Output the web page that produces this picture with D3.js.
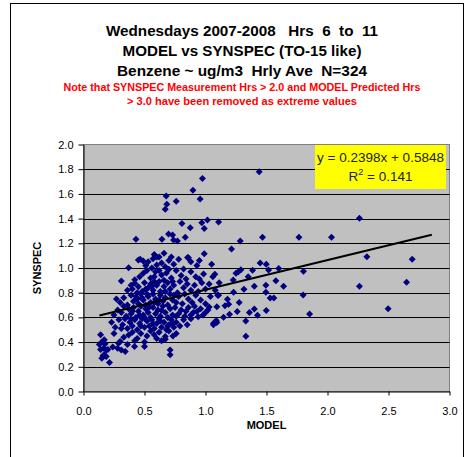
<!DOCTYPE html>
<html><head><meta charset="utf-8">
<script src="https://cdn.jsdelivr.net/npm/d3@7"></script>
<style>html,body{margin:0;padding:0;background:#fff;overflow:hidden} text{white-space:pre}</style>
</head><body>
<svg id="chart" width="466" height="457"></svg>
<script>
const titleLines = ["Wednesdays 2007-2008   Hrs  6  to  11", "MODEL vs SYNSPEC (TO-15 like)", "Benzene ~ ug/m3  Hrly Ave  N=324"];
const noteLines = ["Note that SYNSPEC Measurement Hrs > 2.0 and MODEL Predicted Hrs", "> 3.0 have been removed as extreme values"];
const xTicks = [0, 0.5, 1.0, 1.5, 2.0, 2.5, 3.0];
const yTicks = [0, 0.2, 0.4, 0.6, 0.8, 1.0, 1.2, 1.4, 1.6, 1.8, 2.0];
const xLabel = "MODEL";
const yLabel = "SYNSPEC";
const trendSlope = 0.2398;
const trendIntercept = 0.5848;
const rSquared = 0.141;
const trendExtent = [0.13, 2.855];

const model = [
1.44,0.975,0.956,0.897,0.678,0.76,0.683,0.67,0.807,0.875,
0.97,1.016,0.99,1.107,0.697,0.73,0.738,0.77,0.834,0.643,
0.43,1.285,1.467,1.766,2.033,2.262,1.213,0.99,2.323,2.694,
1.05,1.448,1.498,1.6,1.517,1.803,1.386,1.29,1.27,1.25,
1.35,1.227,0.984,1.077,1.06,1.112,1.577,1.64,1.40,1.495,
1.315,1.23,2.262,2.648,1.495,1.53,1.56,1.80,1.276,1.18,
1.16,1.19,1.26,1.498,1.40,1.36,1.426,1.197,1.148,1.33,
1.088,1.066,1.853,2.497,1.331,1.03,1.093,0.853,0.58,0.60,
0.465,0.66,0.86,0.82,1.107,0.93,0.94,1.065,1.093,
0.37,0.45,0.49,0.53,0.57,0.60,0.62,0.70,0.74,0.78,0.56,0.64,0.93,0.67,0.72,0.88,0.51,0.95,
0.31,0.49,0.59,0.64,0.55,0.68,0.72,0.76,0.80,0.84,0.88,0.92,0.46,0.52,0.66,0.95,0.42,0.58,0.70,0.62,
0.42,0.45,0.36,0.39,0.48,0.50,0.53,0.55,0.57,0.60,0.62,0.63,0.66,0.69,0.71,0.74,0.77,0.79,0.82,0.85,
0.88,0.91,0.94,0.97,1.00,1.03,1.08,0.44,0.51,0.58,0.67,0.40,0.56,0.73,
0.30,0.33,0.36,0.39,0.41,0.43,0.45,0.47,0.49,0.51,0.53,0.55,0.57,0.59,0.61,0.63,0.65,0.67,0.69,0.71,
0.73,0.76,0.78,0.81,0.83,0.86,0.89,0.92,0.96,1.00,1.04,1.10,0.27,0.48,0.62,0.74,0.44,0.58,0.52,
0.25,0.28,0.31,0.33,0.35,0.37,0.39,0.41,0.43,0.45,0.47,0.49,0.51,0.53,0.55,0.57,0.59,0.61,0.63,0.65,
0.67,0.69,0.71,0.73,0.75,0.78,0.80,0.83,0.86,0.90,0.91,0.96,1.00,0.88,0.84,0.98,1.02,0.46,0.54,0.64,
0.40,0.76,0.50,
0.23,0.26,0.29,0.32,0.34,0.36,0.38,0.40,0.42,0.44,0.46,0.48,0.50,0.52,0.54,0.56,0.58,0.60,0.62,0.64,
0.66,0.68,0.70,0.72,0.74,0.76,0.79,0.82,0.85,0.88,0.47,0.57,0.63,0.69,0.73,0.39,0.31,
0.14,0.17,0.15,0.30,0.37,0.60,0.67,0.67,0.733,0.25,0.33,0.40,0.44,0.47,0.52,0.55,0.58,0.62,0.64,0.70,
0.76,0.42,0.50,
0.13,0.178,0.164,0.186,0.287,0.279,0.31,0.342,0.418,0.50,0.71,0.24,0.36,0.14,0.20,
0.17,0.186,0.213,0.71,0.15,0.16
];
const synspec = [
1.78,1.725,1.558,1.63,1.582,1.54,1.517,1.475,1.36,1.326,
1.366,1.388,1.32,1.372,1.275,1.267,1.226,1.218,1.248,1.232,
1.232,1.218,1.248,1.248,1.248,1.402,1.154,1.116,1.091,1.07,
1.03,1.04,1.03,0.995,0.984,0.973,0.981,0.986,0.97,0.957,
0.93,0.903,0.951,0.949,0.93,0.881,0.897,0.852,0.852,0.86,
0.828,0.804,0.852,0.884,0.804,0.757,0.757,0.782,0.72,0.747,
0.695,0.706,0.647,0.655,0.668,0.639,0.617,0.626,0.601,0.571,
0.574,0.553,0.628,0.671,0.448,0.685,0.687,1.086,1.11,1.09,
1.07,1.12,1.083,0.992,0.78,0.647,0.606,0.54,0.558,
1.003,1.065,1.057,1.05,1.075,1.024,1.09,1.06,1.03,1.07,1.0,1.04,1.02,1.01,1.09,1.05,1.02,1.06,
0.895,0.957,0.97,0.943,0.92,0.96,0.92,0.98,0.94,0.91,0.97,0.93,0.93,0.98,0.90,0.91,0.905,0.93,0.99,0.98,
0.876,0.849,0.82,0.86,0.81,0.88,0.84,0.87,0.82,0.86,0.89,0.81,0.85,0.88,0.83,0.86,0.80,0.89,0.84,0.87,
0.82,0.86,0.81,0.88,0.83,0.87,0.82,0.80,0.83,0.89,0.81,0.83,0.85,0.89,
0.72,0.76,0.70,0.78,0.73,0.77,0.71,0.79,0.74,0.70,0.77,0.72,0.79,0.75,0.71,0.78,0.73,0.76,0.70,0.79,
0.74,0.72,0.77,0.71,0.79,0.75,0.72,0.78,0.74,0.71,0.77,0.78,0.75,0.76,0.74,0.78,0.75,0.72,0.79,
0.62,0.66,0.64,0.69,0.61,0.67,0.63,0.68,0.60,0.65,0.69,0.62,0.67,0.64,0.60,0.68,0.63,0.66,0.61,0.69,
0.64,0.60,0.67,0.62,0.68,0.63,0.66,0.61,0.68,0.64,0.69,0.67,0.64,0.62,0.65,0.62,0.66,0.62,0.685,0.655,
0.65,0.61,0.60,
0.56,0.52,0.58,0.54,0.59,0.51,0.56,0.53,0.58,0.50,0.55,0.59,0.52,0.57,0.53,0.58,0.51,0.55,0.59,0.52,
0.56,0.50,0.54,0.58,0.52,0.56,0.53,0.58,0.54,0.59,0.53,0.55,0.57,0.53,0.55,0.59,0.51,
0.46,0.42,0.40,0.404,0.458,0.43,0.445,0.424,0.45,0.47,0.44,0.48,0.43,0.47,0.45,0.49,0.46,0.48,0.41,0.49,
0.47,0.41,0.40,
0.38,0.386,0.35,0.337,0.39,0.35,0.337,0.323,0.364,0.364,0.337,0.36,0.38,0.34,0.34,
0.297,0.283,0.234,0.297,0.27,0.29
];

const FONT = "Arial, 'Liberation Sans', sans-serif";
const svg = d3.select("#chart").style("font-family", FONT);

// outer chart frame
svg.append("rect").attr("x", 10.5).attr("y", 3.5).attr("width", 453).attr("height", 480)
  .attr("fill", "#fff").attr("stroke", "#000").attr("stroke-width", 1);

const x = d3.scaleLinear().domain([0, 3]).range([83.5, 449.5]);
const y = d3.scaleLinear().domain([0, 2]).range([391.5, 144.5]);

// titles
const titleY = [35.5, 56, 76];
const titleW = [272, 239, 250];
svg.selectAll("text.title").data(titleLines).join("text").attr("class", "title")
  .attr("x", 242).attr("y", (d, i) => titleY[i]).attr("text-anchor", "middle")
  .attr("textLength", (d, i) => titleW[i]).attr("lengthAdjust", "spacingAndGlyphs")
  .attr("font-size", 15).attr("font-weight", "bold").attr("fill", "#000").text(d => d);
const noteY = [91, 105];
const noteW = [357, 230];
svg.selectAll("text.note").data(noteLines).join("text").attr("class", "note")
  .attr("x", 242).attr("y", (d, i) => noteY[i]).attr("text-anchor", "middle")
  .attr("textLength", (d, i) => noteW[i]).attr("lengthAdjust", "spacingAndGlyphs")
  .attr("font-size", 10).attr("font-weight", "bold").attr("fill", "#ff0000").text(d => d);

// plot area
svg.append("rect").attr("x", x(0)).attr("y", y(2)).attr("width", x(3) - x(0)).attr("height", y(0) - y(2))
  .attr("fill", "#c0c0c0").attr("stroke", "#808080");

// gridlines
svg.append("g").selectAll("line").data(yTicks.filter(t => t > 0 && t < 2)).join("line")
  .attr("x1", x(0)).attr("x2", x(3)).attr("y1", d => Math.round(y(d)) + 0.5).attr("y2", d => Math.round(y(d)) + 0.5)
  .attr("stroke", "#000").attr("stroke-width", 1);

// axes
const yAxis = svg.append("g").attr("transform", `translate(${x(0)},0)`)
  .call(d3.axisLeft(y).tickValues(yTicks).tickFormat(d3.format(".1f")).tickSize(5).tickSizeOuter(0).tickPadding(5));
const xAxis = svg.append("g").attr("transform", `translate(0,${y(0)})`)
  .call(d3.axisBottom(x).tickValues(xTicks).tickFormat(d3.format(".1f")).tickSize(4).tickSizeOuter(0).tickPadding(12));
[yAxis, xAxis].forEach(g => {
  g.selectAll("text").attr("font-size", 11).attr("font-family", FONT).attr("fill", "#000");
  g.selectAll("line").attr("stroke", "#000");
  g.select(".domain").attr("stroke", "#000");
});

// axis titles
svg.append("text").attr("x", (x(0) + x(3)) / 2).attr("y", 428.5).attr("text-anchor", "middle")
  .attr("font-size", 11).attr("font-weight", "bold").text(xLabel);
svg.append("text").attr("transform", `translate(40.5,${(y(0) + y(2)) / 2}) rotate(-90)`).attr("text-anchor", "middle")
  .attr("font-size", 11).attr("font-weight", "bold").text(yLabel);

// points
const diamond = { draw(ctx, size) { const r = Math.sqrt(size) / 2; ctx.moveTo(0, -r); ctx.lineTo(r, 0); ctx.lineTo(0, r); ctx.lineTo(-r, 0); ctx.closePath(); } };
const pts = d3.zip(model, synspec);
svg.append("g").selectAll("path").data(pts).join("path")
  .attr("transform", d => `translate(${x(d[0])},${y(d[1])})`)
  .attr("d", d3.symbol(diamond, 49))
  .attr("fill", "#000080");

// trendline
svg.append("line")
  .attr("x1", x(trendExtent[0])).attr("y1", y(trendSlope * trendExtent[0] + trendIntercept))
  .attr("x2", x(trendExtent[1])).attr("y2", y(trendSlope * trendExtent[1] + trendIntercept))
  .attr("stroke", "#000").attr("stroke-width", 2);

// equation box
svg.append("rect").attr("x", 315).attr("y", 145).attr("width", 131).attr("height", 44).attr("fill", "#ffff00");
svg.append("text").attr("x", 380.5).attr("y", 161.5).attr("text-anchor", "middle").attr("font-size", 13.5)
  .attr("fill", "#222").text(`y = ${trendSlope}x + ${trendIntercept}`);
const r2 = svg.append("text").attr("x", 380.5).attr("y", 180.5).attr("text-anchor", "middle").attr("font-size", 13.5).attr("fill", "#222");
r2.append("tspan").text("R");
r2.append("tspan").attr("font-size", 9).attr("dy", -6).text("2");
r2.append("tspan").attr("dy", 6).text(` = ${rSquared}`);
</script>
</body></html>
